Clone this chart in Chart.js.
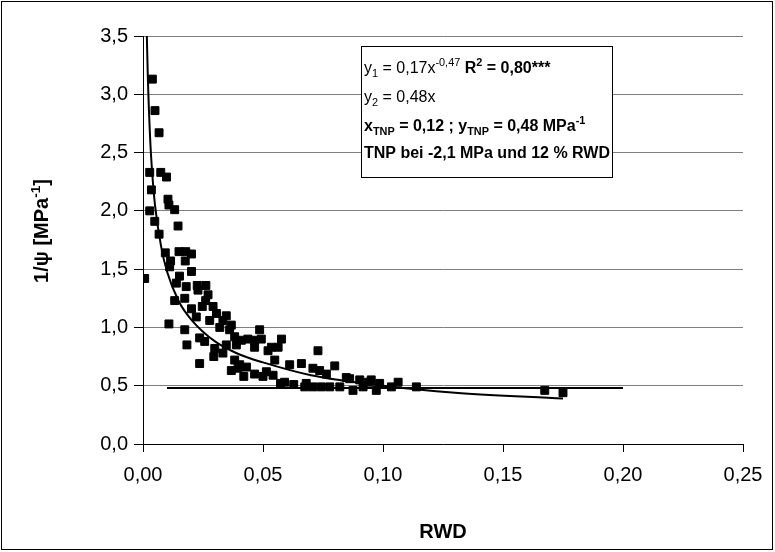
<!DOCTYPE html>
<html>
<head>
<meta charset="utf-8">
<script src="https://cdn.jsdelivr.net/npm/chart.js@4/dist/chart.umd.min.js"></script>
<style>
  body { margin: 0; background: #fff; }
  canvas { display: block; }
</style>
</head>
<body>
<canvas id="c" width="775" height="552"></canvas>
<script>
// measured points: RWD vs 1/psi
const rwd = [
  0.0007, 0.0039, 0.0050, 0.0067, 0.0028, 0.0074, 0.0098, 0.0035, 0.0104, 0.0108,
  0.0028, 0.0132, 0.0049, 0.0146, 0.0067, 0.0093, 0.0150, 0.0178, 0.0202, 0.0115,
  0.0176, 0.0111, 0.0202, 0.0152, 0.0139, 0.0180, 0.0226, 0.0262, 0.0229, 0.0271,
  0.0132, 0.0174, 0.0261, 0.0202, 0.0247, 0.0292, 0.0222, 0.0278, 0.0306, 0.0333,
  0.0347, 0.0320, 0.0108, 0.0174, 0.0361, 0.0368, 0.0382, 0.0486, 0.0410, 0.0437,
  0.0465, 0.0493, 0.0183, 0.0236, 0.0257, 0.0299, 0.0347, 0.0389, 0.0465, 0.0521,
  0.0535, 0.0563, 0.0577, 0.0295, 0.0333, 0.0382, 0.0403, 0.0236, 0.0368, 0.0396,
  0.0431, 0.0420, 0.0465, 0.0500, 0.0542, 0.0514, 0.0549, 0.0590, 0.0611, 0.0660,
  0.0628, 0.0680, 0.0729, 0.0708, 0.0708, 0.0736, 0.0764, 0.0799, 0.0778, 0.0820,
  0.0847, 0.0861, 0.0903, 0.0938, 0.0972, 0.0674, 0.0743, 0.0875, 0.0917, 0.0951,
  0.0986, 0.1035, 0.1063, 0.1139, 0.1674, 0.1750, 0.0573
];
const invPsi = [
  1.42, 3.13, 2.86, 2.67, 2.33, 2.33, 2.29, 2.18, 2.10, 2.05,
  2.00, 2.01, 1.91, 1.87, 1.80, 1.64, 1.65, 1.65, 1.63, 1.57,
  1.57, 1.52, 1.48, 1.44, 1.38, 1.35, 1.36, 1.36, 1.32, 1.28,
  1.23, 1.25, 1.23, 1.16, 1.18, 1.18, 1.09, 1.06, 1.12, 1.06,
  1.10, 1.00, 1.03, 0.98, 0.98, 1.02, 0.92, 0.98, 0.89, 0.90,
  0.89, 0.90, 0.85, 0.91, 0.88, 0.82, 0.85, 0.85, 0.83, 0.80,
  0.83, 0.83, 0.90, 0.75, 0.78, 0.72, 0.68, 0.69, 0.63, 0.65,
  0.66, 0.58, 0.60, 0.58, 0.59, 0.62, 0.72, 0.53, 0.68, 0.69,
  0.51, 0.52, 0.80, 0.65, 0.49, 0.63, 0.60, 0.67, 0.49, 0.49,
  0.57, 0.56, 0.55, 0.53, 0.46, 0.49, 0.49, 0.46, 0.49, 0.55,
  0.52, 0.49, 0.53, 0.49, 0.46, 0.44, 0.52
];

// power fit y1 = 0,17 x^-0,47
const fitX = [0.0016, 0.002, 0.003, 0.004, 0.005, 0.0075, 0.01, 0.015, 0.02, 0.03, 0.04, 0.05, 0.07, 0.10, 0.13, 0.175];
const fitY = [3.50, 3.16, 2.61, 2.28, 2.05, 1.70, 1.48, 1.22, 1.07, 0.88, 0.77, 0.70, 0.59, 0.50, 0.44, 0.39];

// y2 = 0,48 line
const tnpX = [0.01, 0.20];
const tnpY = [0.48, 0.48];

const xTicks = [0, 0.05, 0.10, 0.15, 0.20, 0.25];
const yTicks = [0, 0.5, 1.0, 1.5, 2.0, 2.5, 3.0, 3.5];

const FONT = '"Liberation Sans", Arial, sans-serif';

const toXY = (xs, ys) => xs.map((x, i) => ({ x: x, y: ys[i] }));

function drawRich(ctx, x, y, parts, size) {
  parts.forEach(p => {
    const s = p.s ? size * 0.68 : size;
    ctx.font = (p.b ? 'bold ' : '') + s.toFixed(1) + 'px ' + FONT;
    const dy = p.s === 'sub' ? size * 0.28 : p.s === 'sup' ? -size * 0.42 : 0;
    ctx.fillText(p.t, x, y + dy);
    x += ctx.measureText(p.t).width;
  });
}

const decor = {
  id: 'decor',
  afterDatasetsDraw(chart) {
    const ctx = chart.ctx;
    ctx.save();
    // text box
    ctx.fillStyle = '#fff';
    ctx.fillRect(361, 46, 252, 132);
    ctx.strokeStyle = '#000';
    ctx.lineWidth = 1;
    ctx.strokeRect(361.5, 46.5, 251, 131);
    ctx.fillStyle = '#000';
    ctx.textBaseline = 'alphabetic';
    const fs = 16;
    drawRich(ctx, 364, 73, [
      { t: 'y' }, { t: '1', s: 'sub' }, { t: ' = 0,17x' }, { t: '-0,47', s: 'sup' }, { t: ' ' },
      { t: 'R', b: 1 }, { t: '2', b: 1, s: 'sup' }, { t: ' = 0,80***', b: 1 }
    ], fs);
    drawRich(ctx, 364, 102, [
      { t: 'y' }, { t: '2', s: 'sub' }, { t: ' = 0,48x' }
    ], fs);
    drawRich(ctx, 364, 131, [
      { t: 'x', b: 1 }, { t: 'TNP', b: 1, s: 'sub' }, { t: ' = 0,12 ; y', b: 1 },
      { t: 'TNP', b: 1, s: 'sub' }, { t: ' = 0,48 MPa', b: 1 }, { t: '-1', b: 1, s: 'sup' }
    ], fs);
    drawRich(ctx, 364, 158, [
      { t: 'TNP bei -2,1 MPa und 12 % RWD', b: 1 }
    ], fs);

    // y axis title
    const ts = 20;
    ctx.translate(48, 231);
    ctx.rotate(-Math.PI / 2);
    const parts = [{ t: '1/\u03c8 [MPa', b: 1 }, { t: '-1', b: 1, s: 'sup' }, { t: ']', b: 1 }];
    let w = 0;
    parts.forEach(p => {
      ctx.font = 'bold ' + (p.s ? ts * 0.68 : ts).toFixed(1) + 'px ' + FONT;
      w += ctx.measureText(p.t).width;
    });
    drawRich(ctx, -w / 2, 0, parts, ts);
    ctx.restore();
  },
  afterDraw(chart) {
    const ctx = chart.ctx;
    ctx.save();
    ctx.strokeStyle = '#000';
    ctx.lineWidth = 1;
    ctx.strokeRect(1.5, 1.5, 771, 548);
    ctx.restore();
  }
};

new Chart(document.getElementById('c').getContext('2d'), {
  type: 'scatter',
  data: {
    datasets: [
      {
        label: 'Messwerte',
        data: toXY(rwd, invPsi),
        pointStyle: 'rect',
        pointRadius: 5.6,
        borderWidth: 1,
        backgroundColor: '#000',
        borderColor: '#000',
        order: 2
      },
      {
        label: 'y1',
        data: toXY(fitX, fitY),
        showLine: true,
        cubicInterpolationMode: 'monotone',
        pointRadius: 0,
        borderColor: '#000',
        borderWidth: 2,
        order: 1
      },
      {
        label: 'y2',
        data: toXY(tnpX, tnpY),
        showLine: true,
        pointRadius: 0,
        borderColor: '#000',
        borderWidth: 2,
        order: 1
      }
    ]
  },
  options: {
    responsive: false,
    animation: false,
    layout: { padding: { left: 0, top: 36, right: 32, bottom: 0 } },
    plugins: {
      legend: { display: false },
      tooltip: { enabled: false }
    },
    scales: {
      x: {
        type: 'linear',
        min: 0,
        max: 0.25,
        afterBuildTicks: s => { s.ticks = xTicks.map(v => ({ value: v })); },
        afterFit: s => { s.height = 108; },
        ticks: {
          color: '#000',
          font: { family: FONT, size: 20 },
          padding: 11,
          maxRotation: 0,
          callback: v => v.toFixed(2).replace('.', ',')
        },
        grid: { drawOnChartArea: false, drawTicks: true, tickLength: 8, color: '#000' },
        border: { display: true, color: '#000', width: 1 },
        title: {
          display: true,
          text: 'RWD',
          color: '#000',
          font: { family: FONT, size: 20, weight: 'bold' },
          padding: { top: 0, bottom: 8 }
        }
      },
      y: {
        type: 'linear',
        min: 0,
        max: 3.5,
        afterBuildTicks: s => { s.ticks = yTicks.map(v => ({ value: v })); },
        afterFit: s => { s.width = 143; },
        ticks: {
          color: '#000',
          font: { family: FONT, size: 20 },
          padding: 6,
          callback: v => v.toFixed(1).replace('.', ',')
        },
        grid: { color: '#7f7f7f', tickColor: '#000', tickLength: 9, lineWidth: 1 },
        border: { display: true, color: '#000', width: 1 }
      }
    }
  },
  plugins: [decor]
});
</script>
</body>
</html>
